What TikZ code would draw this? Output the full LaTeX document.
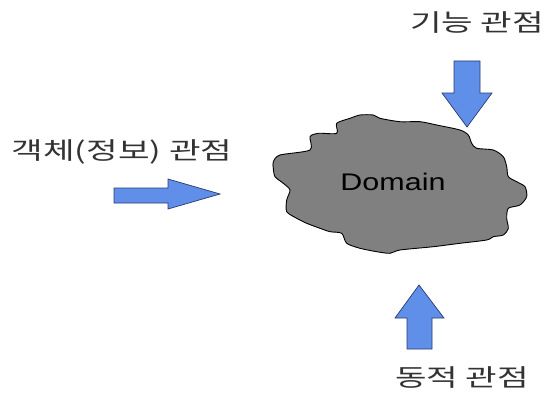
\documentclass[tikz,border=0pt]{standalone}
\usepackage{fontspec}
\newfontfamily\kr{Noto Sans CJK KR}
\newfontfamily\lat{Liberation Sans}
\definecolor{arrowblue}{HTML}{5F8FE8}
\definecolor{arrowline}{HTML}{2A3A70}
\definecolor{blobgray}{HTML}{808080}
\definecolor{txt}{HTML}{333333}
\begin{document}
\begin{tikzpicture}[x=1pt,y=-1pt,
  blockarrow/.style={fill=arrowblue,draw=arrowline,line width=0.7pt,line join=miter},
  blob/.style={fill=blobgray,draw=black,line width=0.9pt},
  krlabel/.style={inner sep=0pt,text=txt,font=\kr\fontsize{24}{27}\selectfont},
  domlabel/.style={inner sep=0pt,text=black,font=\lat\fontsize{24}{28}\selectfont}]
\useasboundingbox (0,0) rectangle (546,396);
% domain blob
\draw[blob] plot[smooth cycle,tension=0.45] coordinates {
(273.3,161.7) (280,155) (310,150) (310,136.7) (318.3,133.3) (336.7,133.3)
(336.7,123.3) (350,118.3) (360,115) (373.3,115) (380,118.3) (400,121.7)
(420,121.7) (436.7,125) (460,130) (468.3,135) (471.7,143.3) (476.7,148.3)
(493.3,150) (503.3,156.7) (506.7,166.7) (508.3,176.7) (516.7,181.7)
(525,186.7) (526.7,196.7) (520,205) (508.3,208.3) (506.7,218.3)
(508.3,228.3) (503.3,235) (493.3,236.7) (486.7,240) (460,243.3)
(433.3,246.7) (400,250) (390,253.3) (376.7,251.7) (360,248.3)
(346.7,243.3) (341.7,233.3) (330,231.7) (320,228.3) (306.7,223.3)
(296.7,218.3) (286.7,211.7) (286.7,200) (290,190) (283.3,183.3)
(275,176.7) (273.3,168.3)};
\node[domlabel] (domain) at (393,182) {\scalebox{1.27}[1]{Domain}};
% arrows
\draw[blockarrow] (114,188) -- (168,188) -- (168,179) -- (220,194) -- (168,209) -- (168,203) -- (114,203) -- cycle;
\draw[blockarrow] (454,61) -- (480,61) -- (480,93) -- (492,93) -- (467,127) -- (442,93) -- (454,93) -- cycle;
\draw[blockarrow] (407,349) -- (432,349) -- (432,318) -- (444,318) -- (419,285) -- (395,318) -- (407,318) -- cycle;
% labels
\node[krlabel] (func) at (477,23) {\scalebox{1.43}[1]{기능 관점}};
\node[krlabel] (obj) at (122,152) {\scalebox{1.43}[1]{객체(정보) 관점}};
\node[krlabel] (dyn) at (462,378) {\scalebox{1.43}[1]{동적 관점}};
\end{tikzpicture}
\end{document}
